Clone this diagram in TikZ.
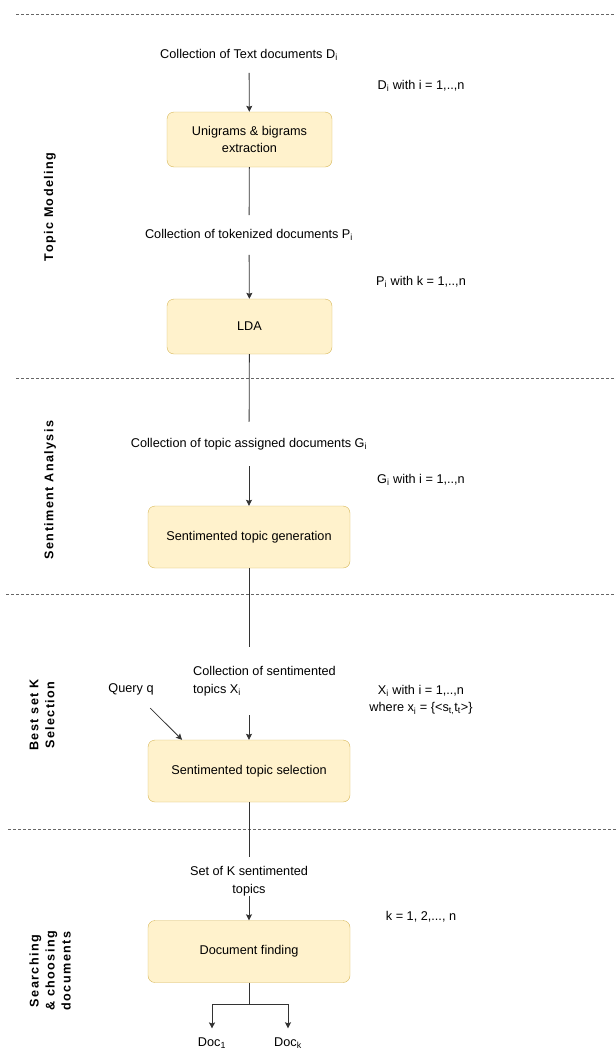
\documentclass[tikz,border=0pt]{standalone}
\usepackage{fontspec}
\setmainfont{Liberation Sans}
\usetikzlibrary{arrows.meta}
\definecolor{boxfill}{HTML}{FFF2CC}
\definecolor{boxline}{HTML}{D6B656}
\begin{document}
\begin{tikzpicture}[x=1pt, y=-1pt, font=\fontsize{12.7}{17.5}\selectfont,
    box/.style = {draw=boxline, fill=boxfill, rounded corners=7pt, align=center, minimum width=202pt, minimum height=62pt},
    smallbox/.style = {box, minimum width=165pt, minimum height=55pt},
    lbl/.style = {align=center, inner xsep=0pt, inner ysep=14pt},
    side/.style = {rotate=90, align=center, font=\fontsize{12.6}{16}\selectfont\bfseries\addfontfeatures{LetterSpace=11}},
    conn/.style = {draw=black!80, line width=0.8pt},
    arr/.style = {conn, -{Stealth[length=6pt, width=6pt, inset=1pt]}},
    sep/.style = {draw=black!60, line width=0.7pt, dash pattern=on 3pt off 2pt}]
    \useasboundingbox (0, 0) rectangle (616, 1050);

    % separators
    \draw[sep] (16, 14) -- (616, 14);
    \draw[sep] (16, 378) -- (616, 378);
    \draw[sep] (6, 594) -- (616, 594);
    \draw[sep] (8, 829) -- (616, 829);

    % phase labels
    \node[side] (topicmod) at (50, 207) {Topic Modeling};
    \node[side] (sentana) at (50, 490) {Sentiment Analysis};
    \node[side] (bestk) at (42, 715) {Best set K\\Selection};
    \node[side] (search) at (50, 971) {Searching\\\& choosing\\documents};

    % main column
    \node[lbl, inner ysep=12pt] (textdocs) at (249, 55) {Collection of Text documents D\textsubscript{i}};
    \node[smallbox] (unigram) at (249.5, 139.5) {Unigrams \& bigrams\\extraction};
    \node[lbl] (tokdocs) at (249, 235) {Collection of tokenized documents P\textsubscript{i}};
    \node[smallbox] (lda) at (249.5, 326.5) {LDA};
    \node[lbl, inner ysep=16pt] (topicdocs) at (249, 444) {Collection of topic assigned documents G\textsubscript{i}};
    \node[box] (sentgen) at (249, 537) {Sentimented topic generation};
    \node[lbl, align=left, anchor=west, inner ysep=19.5pt] (senttopics) at (193, 681) {Collection of sentimented\\topics X\textsubscript{i}};
    \node (query) at (131, 689) {Query q};
    \node[box] (sentsel) at (249, 771) {Sentimented topic selection};
    \node[lbl, inner ysep=0pt] (ksets) at (249, 881) {Set of K sentimented\\topics};
    \node[box] (docfind) at (249, 951.5) {Document finding};
    \node[lbl, inner ysep=9pt] (doc1) at (212, 1043) {Doc\textsubscript{1}};
    \node[lbl, inner ysep=9pt] (dock) at (288, 1043) {Doc\textsubscript{k}};
    \coordinate (fork) at (249, 1004);

    % notes on the right
    \node (dnote) at (421, 86) {D\textsubscript{i} with i = 1,..,n};
    \node (pnote) at (421, 282) {P\textsubscript{i} with k = 1,..,n};
    \node (gnote) at (421, 480) {G\textsubscript{i} with i = 1,..,n};
    \node[align=center] (xnote) at (421, 700) {X\textsubscript{i} with i = 1,..,n\\where x\textsubscript{i} = \{<s\textsubscript{t,}t\textsubscript{t}>\}};
    \node (knote) at (421, 917) {k = 1, 2,..., n};

    % connectors
    \draw[arr] (textdocs) -- (unigram);
    \draw[conn] (unigram) -- (tokdocs);
    \draw[arr] (tokdocs) -- (lda);
    \draw[conn] (lda) -- (topicdocs);
    \draw[arr] (topicdocs) -- (sentgen);
    \draw[conn] (sentgen) -- (senttopics.north -| sentgen.south);
    \draw[arr] (senttopics.south -| sentsel.north) -- (sentsel);
    \draw[arr, shorten <=14pt] (query) -- (sentsel.155);
    \draw[conn, shorten >=9pt] (sentsel) -- (ksets);
    \draw[arr] (ksets) -- (docfind);
    \draw[conn] (docfind) -- (fork);
    \draw[arr] (fork) -| (doc1);
    \draw[arr] (fork) -| (dock);
\end{tikzpicture}
\end{document}
